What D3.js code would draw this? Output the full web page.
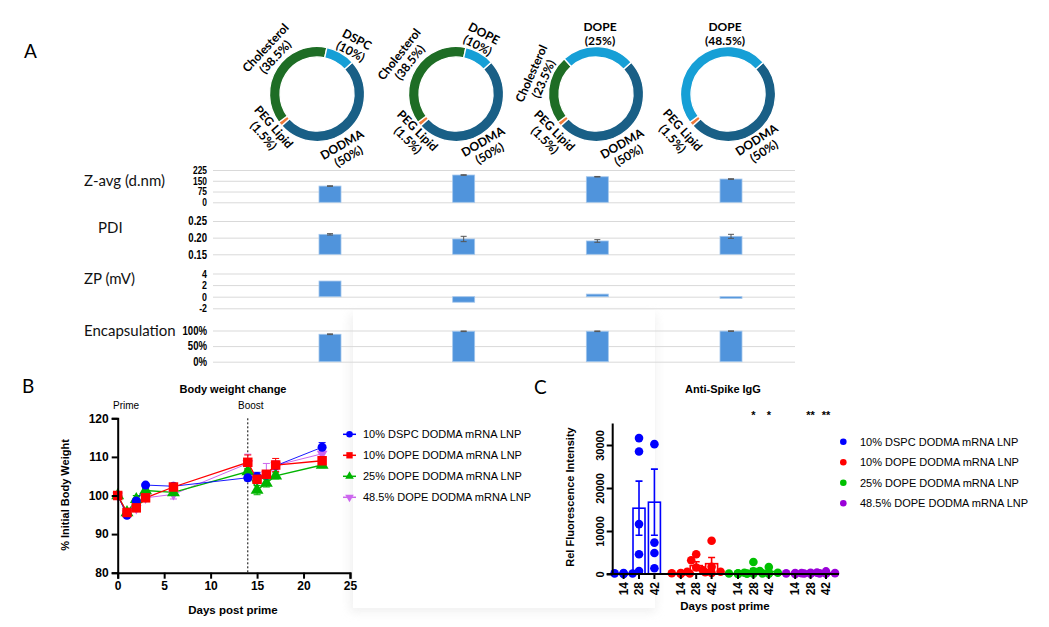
<!DOCTYPE html>
<html><head><meta charset="utf-8">
<script src="https://cdn.jsdelivr.net/npm/d3@7"></script>
<style>body{margin:0;background:#fff} svg{display:block}</style>
</head><body>
<svg id="fig" width="1049" height="627"></svg>
<script>
// ---- data: panel A lipid composition (%) ----
const formulations = ["10% DSPC", "10% DOPE", "25% DOPE", "48.5% DOPE"];
const helperNames = ["DSPC", "DOPE", "DOPE", "DOPE"];
const dodmaPct = [50, 50, 50, 50];
const pegPct = [1.5, 1.5, 1.5, 1.5];
const cholPct = [38.5, 38.5, 23.5, 0];
const helperPct = [10, 10, 25, 48.5];

// ---- data: panel A characterisation ----
const zavg = [113, 190, 178, 162];
const zavgErr = [2, 2, 2, 2];
const pdi = [0.210, 0.196, 0.190, 0.204];
const pdiErr = [0.002, 0.008, 0.004, 0.006];
const zp = [2.7, -0.95, 0.45, -0.3];
const zpErr = [0, 0, 0, 0];
const encap = [0.88, 0.975, 0.975, 0.98];
const encapErr = [0.012, 0.01, 0.01, 0.008];

// ---- data: panel B body weight ----
const days = [0, 1, 2, 3, 6, 14, 15, 16, 17, 22];
const bwDSPC10 = [100, 94.9, 98.6, 102.7, 102.4, 104.6, 104.9, 105.3, 107.7, 112.5];
const bwDSPC10Err = [0, 0.3, 0.6, 0.4, 0.5, 0.8, 1.1, 0.6, 0.6, 1.2];
const bwDOPE10 = [100, 95.6, 96.8, 99.4, 102.2, 108.6, 104.2, 105.5, 107.9, 109.0];
const bwDOPE10Err = [0, 0.4, 0.5, 0.5, 0.4, 1.9, 0.6, 0.6, 1.7, 0.7];
const bwDOPE25 = [100, 95.6, 99.0, 101.3, 100.8, 106.2, 101.4, 103.2, 105.1, 107.9];
const bwDOPE25Err = [0, 0.5, 1.0, 0.6, 0.7, 0.8, 1.2, 1.0, 0.8, 0.7];
const bwDOPE48 = [100, 95.3, 96.7, 99.4, 100.3, 108.3, 103.8, 105.5, 107.8, 110.8];
const bwDOPE48Err = [0, 0.4, 0.6, 0.5, 1.2, 2.4, 0.7, 2.8, 1.2, 1.0];
const bwTicksX = [0, 5, 10, 15, 20, 25];
const bwTicksY = [80, 90, 100, 110, 120];

// ---- data: panel C anti-spike IgG ----
const igDays = ["14", "28", "42"];
const igDSPC10 = [[150, 60, 220, 30, 100], [31600, 28500, 11600, 4580, 700], [30200, 7300, 4900, 1320]];
const igDSPC10Mean = [110, 15300, 16700];
const igDSPC10Err = [40, 6300, 7700];
const igDOPE10 = [[120, 40, 200, 80, 160], [4580, 3200, 1500, 540, 390], [7750, 1700, 930, 540, 230]];
const igDOPE10Mean = [120, 1950, 2400];
const igDOPE10Err = [30, 900, 1450];
const igDOPE25 = [[100, 60, 30, 160, 80], [2800, 600, 300, 150, 80], [1600, 700, 300, 180, 90]];
const igDOPE25Mean = [90, 790, 570];
const igDOPE25Err = [25, 500, 280];
const igDOPE48 = [[100, 220, 60, 30, 150], [300, 200, 100, 150, 60], [600, 320, 200, 100, 150]];
const igDOPE48Mean = [110, 160, 270];
const igDOPE48Err = [35, 45, 90];
const igTicksY = [0, 10000, 20000, 30000];
const igStars = ["", "", "", "", "", "", "", "*", "*", "", "**", "**"];

const legendNames = ["10% DSPC DODMA mRNA LNP", "10% DOPE DODMA mRNA LNP", "25% DOPE DODMA mRNA LNP", "48.5% DOPE DODMA mRNA LNP"];

// ---- styling ----
const ARIAL = "'Liberation Sans', Arial, sans-serif";
const CALIBRI = "Lato, 'Open Sans', sans-serif";
const sliceColor = {DODMA: "#195f86", PEG: "#ee7a3a", Chol: "#1e6d25", Helper: "#169fd6"};
const seriesColor = ["#0000ff", "#ff0000", "#00b400", "#cc66ee"];
const igColor = ["#0000ff", "#ff0000", "#00c000", "#9a00d8"];

const svg = d3.select("#fig");

// soft shadowed panel behind the lower middle
const defs = svg.append("defs");
defs.append("filter").attr("id", "blur").append("feGaussianBlur").attr("stdDeviation", 5);
svg.append("rect").attr("x", 350).attr("y", 314).attr("width", 306).attr("height", 298)
  .attr("fill", "#e6e6e6").attr("filter", "url(#blur)").attr("opacity", 0.6);
svg.append("rect").attr("x", 353).attr("y", 310).attr("width", 302).attr("height", 298).attr("fill", "#fff");

// panel letters
[["A", 24, 58], ["B", 22, 393], ["C", 534, 394]].forEach(([t, x, y]) =>
  svg.append("text").attr("x", x).attr("y", y).text(t)
    .style("font-family", CALIBRI).style("font-size", "19px"));

// ================= Panel A: donuts =================
const donutCx = [317, 456, 596, 728], donutCy = 94;
const a0 = 48 * Math.PI / 180;
const pie = d3.pie().sort(null).value(d => d.v).startAngle(a0).endAngle(a0 + 2 * Math.PI);
const arc = d3.arc().innerRadius(37).outerRadius(47.5);
// label placements (offset from donut centre, rotation)
const labelPos = [
  {Chol: [-47, -42, -47], Helper: [37, -49, 28], PEG: [-48, 37, 49], DODMA: [28, 56, -30]},
  {Chol: [-52, -36, -52], Helper: [25, -55, 28], PEG: [-43, 41, 45], DODMA: [30, 53, -30]},
  {Chol: [-59, -18, -66], Helper: [4, -61, 0], PEG: [-46, 41, 45], DODMA: [29, 55, -30]},
  {Helper: [-3, -61, 0], PEG: [-50, 40, 48], DODMA: [32, 51, -33]}
];

formulations.forEach((f, i) => {
  const slices = [
    {k: "DODMA", v: dodmaPct[i], name: "DODMA"},
    {k: "PEG", v: pegPct[i], name: "PEG Lipid"},
    {k: "Chol", v: cholPct[i], name: "Cholesterol"},
    {k: "Helper", v: helperPct[i], name: helperNames[i]}
  ].filter(d => d.v > 0);
  const g = svg.append("g").attr("transform", `translate(${donutCx[i]},${donutCy})`);
  g.selectAll("path").data(pie(slices)).join("path")
    .attr("d", arc).attr("fill", d => sliceColor[d.data.k])
    .attr("stroke", "#fff").attr("stroke-width", 1.3);
  slices.forEach(s => {
    const p = labelPos[i][s.k];
    const t = g.append("text").attr("transform", `translate(${p[0]},${p[1]}) rotate(${p[2]})`)
      .attr("text-anchor", "middle")
      .style("font-family", CALIBRI).style("font-weight", "bold").style("font-size", "12px");
    t.append("tspan").attr("x", 0).attr("y", -2).text(s.name);
    t.append("tspan").attr("x", 0).attr("y", 11.5).text(`(${s.v}%)`);
  });
});

// ================= Panel A: characterisation rows =================
const xT = d3.scalePoint().domain(formulations).range([330, 731]);
const gridX0 = 213, gridX1 = 795, barW = 22;
const rows = [
  {label: "Z-avg (d.nm)", lx: 84, ly: 186, vals: zavg, errs: zavgErr, y: d3.scaleLinear([0, 225], [202.3, 170]), ticks: [0, 75, 150, 225], fmt: d => d, base: 0, fs: 10.5},
  {label: "PDI", lx: 98, ly: 233, vals: pdi, errs: pdiErr, y: d3.scaleLinear([0.15, 0.25], [254.3, 221]), ticks: [0.15, 0.20, 0.25], fmt: d3.format(".2f"), base: 0.15, fs: 12},
  {label: "ZP (mV)", lx: 84, ly: 284, vals: zp, errs: zpErr, y: d3.scaleLinear([-2, 4], [308.3, 273.5]), ticks: [-2, 0, 2, 4], fmt: d => d, base: 0, fs: 11},
  {label: "Encapsulation", lx: 84, ly: 336, vals: encap, errs: encapErr, y: d3.scaleLinear([0, 1], [361.7, 330.5]), ticks: [0, 0.5, 1], fmt: d3.format(".0%"), base: 0, fs: 12}
];
const sx = 0.8;
rows.forEach(r => {
  const g = svg.append("g");
  g.append("text").attr("x", r.lx).attr("y", r.ly).text(r.label)
    .style("font-family", CALIBRI).style("font-size", "15px").style("fill", "#111");
  const ax = g.append("g").attr("transform", `translate(${gridX0},0)`)
    .call(d3.axisLeft(r.y).tickValues(r.ticks).tickFormat(r.fmt).tickSize(-(gridX1 - gridX0)).tickPadding(6));
  ax.select(".domain").remove();
  ax.selectAll(".tick line").attr("stroke", "#d9d9d9").attr("stroke-width", 1);
  ax.selectAll(".tick text").attr("fill", "#000")
    .style("font-family", ARIAL).style("font-weight", "bold").style("font-size", r.fs + "px")
    .attr("transform", `scale(${sx},1)`)
    .attr("x", -6 / sx);
  g.selectAll("rect.bar").data(r.vals).join("rect").attr("class", "bar")
    .attr("x", (d, i) => xT(formulations[i]) - barW / 2).attr("width", barW)
    .attr("y", d => Math.min(r.y(d), r.y(r.base)))
    .attr("height", d => Math.abs(r.y(d) - r.y(r.base)))
    .attr("fill", "#5094dc").attr("stroke", "#a3c6ec").attr("stroke-width", 0.8);
  r.vals.forEach((v, i) => {
    if (!r.errs[i]) return;
    const cx = xT(formulations[i]);
    const y1 = r.y(v + r.errs[i]), y2 = r.y(v - r.errs[i]);
    g.append("path").attr("d", `M${cx},${y1}V${y2}M${cx - 3},${y1}H${cx + 3}M${cx - 3},${y2}H${cx + 3}`)
      .attr("stroke", "#555").attr("stroke-width", 1).attr("fill", "none");
  });
});

// ================= Panel B: body weight =================
{
  const x = d3.scaleLinear([0, 25], [117.7, 350]);
  const y = d3.scaleLinear([80, 120], [572.7, 418.3]);
  const g = svg.append("g");
  const series = [
    {v: bwDOPE48, e: bwDOPE48Err, c: seriesColor[3], sym: "down", lw: 1},
    {v: bwDOPE25, e: bwDOPE25Err, c: seriesColor[2], sym: "tri", lw: 1.3},
    {v: bwDSPC10, e: bwDSPC10Err, c: seriesColor[0], sym: "circle", lw: 0.9},
    {v: bwDOPE10, e: bwDOPE10Err, c: seriesColor[1], sym: "square", lw: 1.3}
  ];
  const symPath = {
    circle: d3.symbol(d3.symbolCircle, 64)(),
    square: d3.symbol(d3.symbolSquare, 90)(),
    tri: d3.symbol(d3.symbolTriangle, 72)(),
    down: d3.symbol(d3.symbolTriangle, 50)()
  };
  // dotted boost line
  g.append("line").attr("x1", x(14)).attr("x2", x(14)).attr("y1", y(120)).attr("y2", y(80))
    .attr("stroke", "#000").attr("stroke-width", 1).attr("stroke-dasharray", "2,2");
  const line = d3.line().x((d, i) => x(days[i])).y(d => y(d));
  series.forEach(s => {
    g.append("path").attr("d", line(s.v)).attr("fill", "none").attr("stroke", s.c).attr("stroke-width", s.lw);
    s.v.forEach((v, i) => {
      if (!s.e[i]) return;
      const cx = x(days[i]), y1 = y(v + s.e[i]), y2 = y(v - s.e[i]);
      g.append("path").attr("d", `M${cx},${y1}V${y2}M${cx - 3.5},${y1}H${cx + 3.5}M${cx - 3.5},${y2}H${cx + 3.5}`)
        .attr("stroke", s.c).attr("stroke-width", 1).attr("fill", "none");
    });
  });
  series.forEach(s => {
    g.selectAll(null).data(s.v).join("path")
      .attr("d", symPath[s.sym]).attr("fill", s.c)
      .attr("transform", (d, i) => `translate(${x(days[i])},${y(d)})${s.sym === "down" ? " rotate(180)" : ""}`);
  });
  const ay = g.append("g").attr("transform", `translate(${x(0)},0)`)
    .call(d3.axisLeft(y).tickValues(bwTicksY).tickSize(6).tickPadding(3));
  const axx = g.append("g").attr("transform", `translate(0,${y(80)})`)
    .call(d3.axisBottom(x).tickValues(bwTicksX).tickSize(6).tickPadding(3));
  [ay, axx].forEach(a => {
    a.selectAll("path,line").attr("stroke", "#000").attr("stroke-width", 2);
    a.selectAll("text").attr("fill", "#000").style("font-family", ARIAL).style("font-weight", "bold").style("font-size", "12px");
  });
  const txt = (t, x0, y0, size, bold, anchor, rot) => g.append("text")
    .attr("transform", `translate(${x0},${y0})${rot ? ` rotate(${rot})` : ""}`)
    .attr("text-anchor", anchor || "middle").text(t)
    .style("font-family", ARIAL).style("font-size", size + "px").style("font-weight", bold ? "bold" : "normal");
  txt("Body weight change", 233, 393, 11, true);
  txt("Prime", 113, 409, 10, false, "start");
  txt("Boost", 238, 409, 10, false, "start");
  txt("Days post prime", 233, 614, 11.5, true);
  txt("% Initial Body Weight", 69, 495, 11, true, "middle", -90);

  // legend
  const order = [
    {c: seriesColor[0], sym: "circle"}, {c: seriesColor[1], sym: "square"},
    {c: seriesColor[2], sym: "tri"}, {c: seriesColor[3], sym: "down"}
  ];
  const ly = d3.scalePoint().domain(legendNames).range([434.3, 497.3]);
  legendNames.forEach((n, i) => {
    const yy = ly(n);
    g.append("line").attr("x1", 343).attr("x2", 356).attr("y1", yy).attr("y2", yy).attr("stroke", order[i].c).attr("stroke-width", 1.5);
    g.append("path").attr("d", order[i].sym === "square" ? d3.symbol(d3.symbolSquare, 40)() : order[i].sym === "circle" ? d3.symbol(d3.symbolCircle, 34)() : d3.symbol(d3.symbolTriangle, 32)())
      .attr("fill", order[i].c).attr("transform", `translate(349.5,${yy})${order[i].sym === "down" ? " rotate(180)" : ""}`);
    txt(n, 363, yy + 4, 11, false, "start");
  });
}

// ================= Panel C: anti-spike IgG =================
{
  const y = d3.scaleLinear([0, 35000], [574, 423.5]);
  const gx = d3.scaleBand().domain(legendNames).range([615.9, 833.7]).paddingInner(0.192);
  const dx = d3.scaleBand().domain(igDays).range([0, gx.bandwidth()]);
  const g = svg.append("g");
  const groups = [
    {dots: igDSPC10, m: igDSPC10Mean, e: igDSPC10Err},
    {dots: igDOPE10, m: igDOPE10Mean, e: igDOPE10Err},
    {dots: igDOPE25, m: igDOPE25Mean, e: igDOPE25Err},
    {dots: igDOPE48, m: igDOPE48Mean, e: igDOPE48Err}
  ];
  const bw = 12, r = 4.3;
  groups.forEach((grp, gi) => {
    const col = igColor[gi];
    igDays.forEach((dd, di) => {
      const cx = gx(legendNames[gi]) + dx(dd) + dx.bandwidth() / 2;
      const m = grp.m[di], e = grp.e[di];
      g.append("rect").attr("x", cx - bw / 2).attr("width", bw).attr("y", y(m)).attr("height", y(0) - y(m))
        .attr("fill", "none").attr("stroke", col).attr("stroke-width", 1.6);
      g.append("path").attr("d", `M${cx},${y(m + e)}V${y(Math.max(0, m - e))}M${cx - 3.5},${y(m + e)}H${cx + 3.5}M${cx - 3.5},${y(Math.max(0, m - e))}H${cx + 3.5}`)
        .attr("stroke", col).attr("stroke-width", 1.6).attr("fill", "none");
      // simple beeswarm placement
      const placed = [];
      grp.dots[di].slice().sort((a, b) => b - a).forEach(v => {
        const py = y(v);
        const offs = [0, -5, 5, -9, 9, -13, 13];
        let ox = 0;
        for (const o of offs) {
          if (placed.every(p => Math.hypot(p[0] - (cx + o), p[1] - py) >= 2 * r * 0.9)) { ox = o; break; }
        }
        placed.push([cx + ox, py]);
      });
      g.selectAll(null).data(placed).join("circle").attr("cx", d => d[0]).attr("cy", d => d[1]).attr("r", r).attr("fill", col);
      const star = igStars[gi * 3 + di];
      if (star) g.append("text").attr("x", cx).attr("y", 419).attr("text-anchor", "middle").text(star)
        .style("font-family", ARIAL).style("font-weight", "bold").style("font-size", "11px");
    });
  });
  const ay = g.append("g").attr("transform", "translate(612.7,0)")
    .call(d3.axisLeft(y).tickValues(igTicksY).tickFormat(d3.format("d")).tickSize(6).tickPadding(3));
  ay.select(".domain").attr("d", `M-6,${y(0)}H0V${y(35000)}`);
  ay.selectAll(".tick text").attr("transform", "translate(-13,0) rotate(-90)")
    .attr("text-anchor", "middle").attr("x", 0).attr("y", 0).attr("dy", "0.35em");
  const ax = g.append("g").attr("transform", `translate(0,${y(0)})`);
  ax.append("path").attr("d", `M612.7,0H839`).attr("stroke", "#000").attr("stroke-width", 2);
  legendNames.forEach(n => igDays.forEach(dd => {
    const cx = gx(n) + dx(dd) + dx.bandwidth() / 2;
    ax.append("line").attr("x1", cx).attr("x2", cx).attr("y1", 0).attr("y2", 5).attr("stroke", "#000").attr("stroke-width", 2);
    ax.append("text").attr("transform", `translate(${cx},8) rotate(-90)`).attr("text-anchor", "end").attr("dy", "0.35em").text(dd)
      .style("font-family", ARIAL).style("font-weight", "bold").style("font-size", "12px");
  }));
  ay.selectAll("path,line").attr("stroke", "#000").attr("stroke-width", 2);
  ay.selectAll("text").attr("fill", "#000").style("font-family", ARIAL).style("font-weight", "bold").style("font-size", "11px");
  const txt = (t, x0, y0, size, bold, anchor, rot) => g.append("text")
    .attr("transform", `translate(${x0},${y0})${rot ? ` rotate(${rot})` : ""}`)
    .attr("text-anchor", anchor || "middle").text(t)
    .style("font-family", ARIAL).style("font-size", size + "px").style("font-weight", bold ? "bold" : "normal");
  txt("Anti-Spike IgG", 723, 393, 11, true);
  txt("Days post prime", 725, 610, 11.5, true);
  txt("Rel Fluorescence Intensity", 574, 497, 11, true, "middle", -90);
  const ly = d3.scalePoint().domain(legendNames).range([441.7, 503.3]);
  legendNames.forEach((n, i) => {
    g.append("circle").attr("cx", 843.3).attr("cy", ly(n)).attr("r", 3.3).attr("fill", igColor[i]);
    txt(n, 860, ly(n) + 4, 11, false, "start");
  });
}
</script>
</body></html>
